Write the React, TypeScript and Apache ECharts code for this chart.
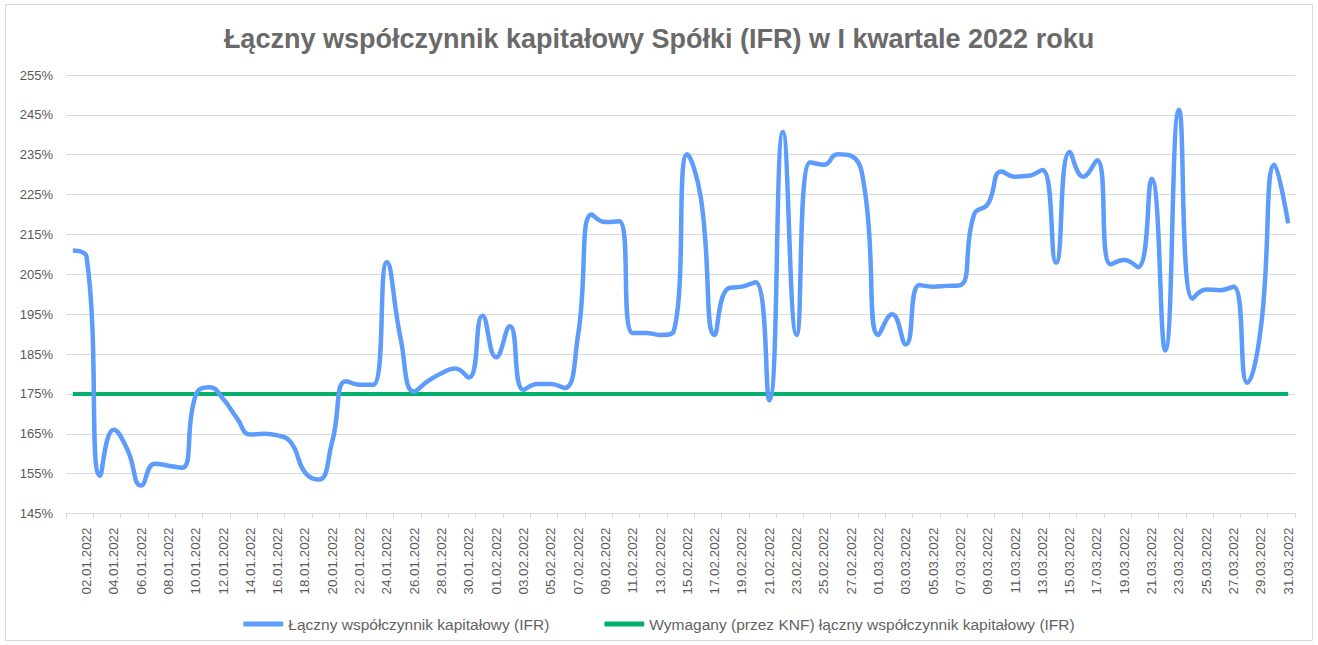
import React, { useEffect, useRef } from "react";
import * as echarts from "echarts";

const categories: string[] = [
  "01.01.2022","02.01.2022","03.01.2022","04.01.2022","05.01.2022","06.01.2022","07.01.2022","08.01.2022","09.01.2022","10.01.2022",
  "11.01.2022","12.01.2022","13.01.2022","14.01.2022","15.01.2022","16.01.2022","17.01.2022","18.01.2022","19.01.2022","20.01.2022",
  "21.01.2022","22.01.2022","23.01.2022","24.01.2022","25.01.2022","26.01.2022","27.01.2022","28.01.2022","29.01.2022","30.01.2022",
  "31.01.2022","01.02.2022","02.02.2022","03.02.2022","04.02.2022","05.02.2022","06.02.2022","07.02.2022","08.02.2022","09.02.2022",
  "10.02.2022","11.02.2022","12.02.2022","13.02.2022","14.02.2022","15.02.2022","16.02.2022","17.02.2022","18.02.2022","19.02.2022",
  "20.02.2022","21.02.2022","22.02.2022","23.02.2022","24.02.2022","25.02.2022","26.02.2022","27.02.2022","28.02.2022","01.03.2022",
  "02.03.2022","03.03.2022","04.03.2022","05.03.2022","06.03.2022","07.03.2022","08.03.2022","09.03.2022","10.03.2022","11.03.2022",
  "12.03.2022","13.03.2022","14.03.2022","15.03.2022","16.03.2022","17.03.2022","18.03.2022","19.03.2022","20.03.2022","21.03.2022",
  "22.03.2022","23.03.2022","24.03.2022","25.03.2022","26.03.2022","27.03.2022","28.03.2022","29.03.2022","30.03.2022","31.03.2022",
];

// Łączny współczynnik kapitałowy (IFR), %
const ifrValues: number[] = [
  211, 209.5, 154.5, 166, 161, 152, 157.5, 157, 156.5, 174.7,
  176.7, 173.8, 169, 164.8, 165, 164.6, 162.7, 155.3, 153.5, 163.1,
  178.2, 177.3, 177.3, 208, 189, 175.6, 178.2, 180.2, 181.4, 179.1,
  194.6, 184.2, 192, 176, 177.5, 177.5, 176.5, 189.8, 220, 218.1,
  218.3, 190.3, 190.3, 189.8, 190.7, 235.1, 224, 189.8, 201.5, 201.9,
  203, 173.4, 240.7, 189.8, 233.1, 232.5, 235.1, 234.7, 226, 189.8,
  195, 187.4, 202.3, 201.9, 202.1, 202.3, 220, 222.6, 230.8, 229.5,
  229.7, 231.2, 207.9, 235.7, 229.5, 233.6, 207.5, 208.6, 206.8, 229,
  185.9, 246.3, 198.9, 201.2, 201, 201.9, 177.8, 191.6, 232.5, 217.8,
];

// Wymagany (przez KNF) łączny współczynnik kapitałowy (IFR), %
const requiredRatio = 175;

const yMin = 145;
const yMax = 255;
const yStep = 10;

const titleText = "Łączny współczynnik kapitałowy Spółki (IFR) w I kwartale 2022 roku";
const seriesNames = [
  "Łączny współczynnik kapitałowy (IFR)",
  "Wymagany (przez KNF) łączny współczynnik kapitałowy (IFR)",
];

const FONT = "'Liberation Sans', Arial, sans-serif";
const GRAY = "#595959";

export default function App() {
  const ref = useRef<HTMLDivElement>(null);

  useEffect(() => {
    if (!ref.current) return;
    const chart = echarts.init(ref.current, undefined, { renderer: "svg" });
    const requiredData = categories.map(() => requiredRatio);
    chart.setOption({
      animation: false,
      backgroundColor: "#ffffff",
      textStyle: { fontFamily: FONT },
      title: {
        text: titleText,
        left: "center",
        top: 20,
        textStyle: { fontFamily: FONT, fontSize: 27, fontWeight: "bold", color: "#6a6a6a" },
      },
      graphic: [
        {
          type: "rect",
          shape: { x: 5.5, y: 4.5, width: 1307, height: 636 },
          style: { fill: "none", stroke: "#d9d9d9", lineWidth: 1 },
          silent: true,
        },
      ],
      legend: {
        bottom: 8,
        left: "center",
        itemGap: 55,
        itemWidth: 40,
        itemHeight: 5,
        icon: "roundRect",
        textStyle: { fontFamily: FONT, fontSize: 15.5, color: "#636363" },
        data: seriesNames,
      },
      grid: {
        left: 66,
        right: 23,
        top: 75,
        bottom: 131.5,
        outerBoundsMode: "none",
      },
      xAxis: {
        type: "category",
        data: categories,
        boundaryGap: true,
        axisLine: { show: true, lineStyle: { color: "#d9d9d9", width: 1 } },
        axisTick: { show: true, interval: 1, length: 5, lineStyle: { color: "#d9d9d9" } },
        axisLabel: {
          interval: (idx: number) => idx % 2 === 1,
          rotate: 90,
          margin: 14,
          fontFamily: FONT,
          fontSize: 13.4,
          color: GRAY,
        },
        splitLine: { show: false },
      },
      yAxis: {
        type: "value",
        min: yMin,
        max: yMax,
        interval: yStep,
        axisLine: { show: false },
        axisTick: { show: false },
        axisLabel: {
          formatter: "{value}%",
          fontFamily: FONT,
          fontSize: 13,
          color: GRAY,
          margin: 13,
        },
        splitLine: { show: true, lineStyle: { color: "#d9d9d9", width: 1 } },
      },
      series: [
        {
          name: seriesNames[0],
          type: "line",
          data: ifrValues,
          smooth: 0.5,
          showSymbol: false,
          symbol: "none",
          lineStyle: { color: "#5E9CFB", width: 4.5 },
          itemStyle: { color: "#5E9CFB" },
          z: 3,
        },
        {
          name: seriesNames[1],
          type: "line",
          data: requiredData,
          showSymbol: false,
          symbol: "none",
          lineStyle: { color: "#00B06B", width: 4 },
          itemStyle: { color: "#00B06B" },
          z: 2,
        },
      ],
    });
    return () => chart.dispose();
  }, []);

  return (
    <div
      ref={ref}
      style={{ position: "absolute", left: 0, top: 0, width: 1318, height: 645 }}
    />
  );
}
